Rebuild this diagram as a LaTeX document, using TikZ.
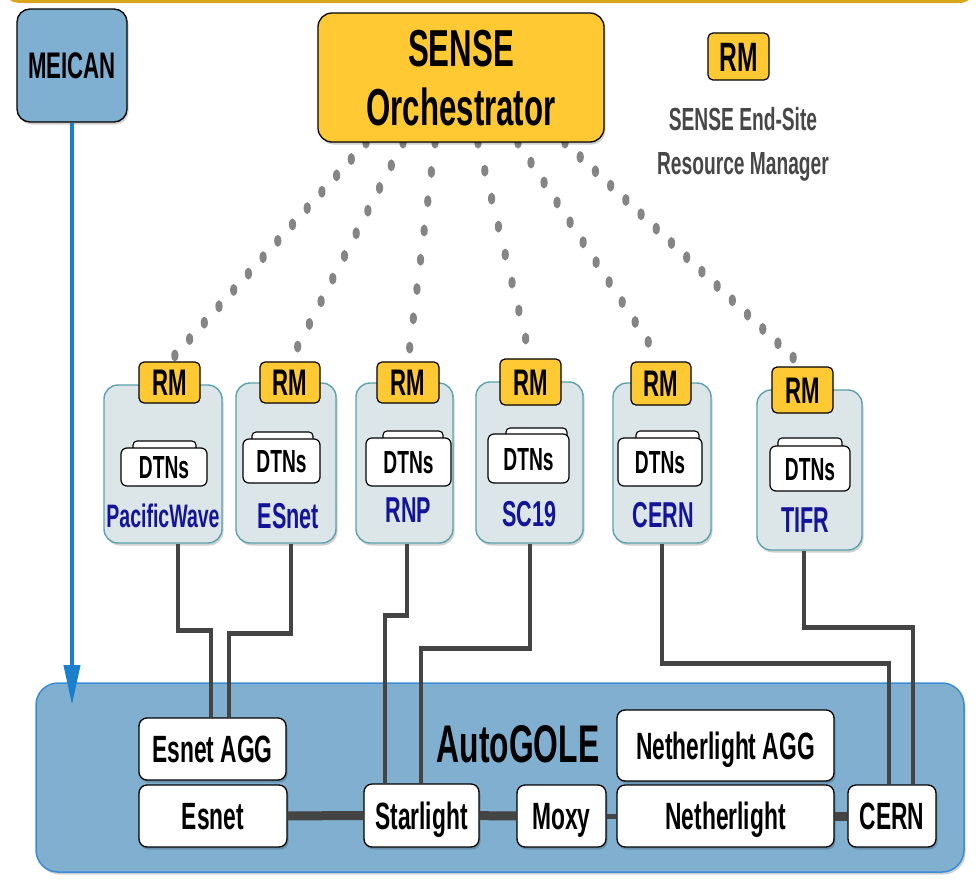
\documentclass[tikz,border=0pt]{standalone}
\usepackage{fontspec}
\setmainfont{Liberation Sans}[FakeStretch=0.6]
\usetikzlibrary{arrows.meta,shadows,decorations.markings}
\definecolor{gold}{HTML}{FFC933}
\definecolor{goldline}{HTML}{D9A51C}
\definecolor{meicanblue}{HTML}{7FAFD1}
\definecolor{golefill}{HTML}{80AFD0}
\definecolor{goleedge}{HTML}{3A8CD6}
\definecolor{sitefill}{HTML}{DCE6E9}
\definecolor{siteedge}{HTML}{5BA2AE}
\definecolor{sitename}{HTML}{14149A}
\definecolor{linkgray}{HTML}{444444}
\definecolor{dotgray}{HTML}{858585}
\definecolor{arrowblue}{HTML}{1A80CE}
\definecolor{legendgray}{HTML}{474747}
\pgfdeclarelayer{bg}
\pgfsetlayers{bg,main}
\tikzset{
  fnt/.code={\pgfmathsetmacro\mytexth{0.72*#1}%
    \tikzset{font=\bfseries\fontsize{#1}{#1}\selectfont, text height=\mytexth pt, text depth=0pt, inner sep=0pt}},
  softshadow/.style={drop shadow={shadow xshift=1.5pt, shadow yshift=-2.5pt, opacity=0.18, fill=black}},
  orchbox/.style={draw=black, line width=1.3pt, fill=gold, rounded corners=14pt, softshadow},
  meicanbox/.style={draw=black, line width=1.3pt, fill=meicanblue, rounded corners=13pt, softshadow, fnt=37},
  rmbox/.style={draw=black, line width=1.2pt, fill=gold, rounded corners=5pt, fnt=37},
  sitebox/.style={draw=siteedge, line width=1.4pt, fill=sitefill, rounded corners=14pt, softshadow},
  dtnback/.style={draw=black, line width=1.1pt, fill=white, rounded corners=4pt},
  dtnfront/.style={draw=black, line width=1.2pt, fill=white, rounded corners=6pt, fnt=32},
  sitelabel/.style={fnt=36, text=sitename, anchor=base},
  golebox/.style={draw=goleedge, line width=1.5pt, fill=golefill, rounded corners=22pt, softshadow},
  golenode/.style={draw=black, line width=1.3pt, fill=white, rounded corners=8pt, fnt=38, softshadow},
  uplink/.style={draw=linkgray, line width=4.8pt},
  trunk/.style={draw=linkgray, line width=9pt},
  rmdots/.style={decorate, decoration={markings,
      mark=between positions 0 and 1 step #1 with {\pgftransformresetnontranslations
        \fill[dotgray] (0,0) ellipse [x radius=3.6pt, y radius=6pt];}}},
  meicanarrow/.style={draw=arrowblue, line width=4pt, -{Triangle[length=40pt,width=16pt]}},
  legendtext/.style={fnt=32, text=legendgray, anchor=base},
}
\begin{document}
\begin{tikzpicture}[x=1pt,y=-1pt]
\useasboundingbox (0,0) rectangle (978,879);

% top gold rule
\draw[goldline, line width=3pt] (8,-10) .. controls (9,0) and (12,1.5) .. (24,1.5) -- (958,1.5) .. controls (966,1.5) and (969,0) .. (970,-10);

% AutoGOLE domain
\node[golebox, minimum width=928, minimum height=189] (autogole) at (500,777.5) {};
\node[fnt=53, anchor=base] (autogoletext) at (518,762) {AutoGOLE};

\node[golenode, minimum width=147, minimum height=62] (esagg) at (212.5,749) {Esnet AGG};
\node[golenode, minimum width=148, minimum height=62] (esnet) at (213,816) {Esnet};
\node[golenode, minimum width=115, minimum height=63] (starlight) at (421.5,815.5) {Starlight};
\node[golenode, minimum width=89, minimum height=62] (moxy) at (561.5,816) {Moxy};
\node[golenode, minimum width=217, minimum height=62] (netherlight) at (725.5,816) {Netherlight};
\node[golenode, minimum width=217, minimum height=71] (nlagg) at (725.5,745.5) {Netherlight AGG};
\node[golenode, minimum width=88, minimum height=62] (cernnode) at (892,816) {CERN};

\draw[trunk] (esnet) -- (starlight);
\draw[trunk] (starlight) -- (moxy);
\draw[trunk, line width=5pt] (moxy) -- (netherlight);
\draw[trunk] (netherlight) -- (cernnode);

% MEICAN
\node[meicanbox, minimum width=110, minimum height=113] (meican) at (72,65.5) {MEICAN};
\coordinate (arrowtip) at (72,705);
\draw[meicanarrow] (meican.south) -- (arrowtip);

% SENSE Orchestrator
\node[orchbox, minimum width=286, minimum height=129] (orch) at (461,77.5) {};
\node[fnt=52, anchor=base] (orchline1) at (461,66) {SENSE};
\node[fnt=52, anchor=base] (orchline2) at (461,125) {Orchestrator};

% legend
\node[rmbox, fnt=41, minimum width=61, minimum height=47] (legendrm) at (738.5,56.5) {RM};
\node[legendtext] (legend1) at (743,130) {SENSE End-Site};
\node[legendtext] (legend2) at (743,174) {Resource Manager};

% sites
\node[sitebox, minimum width=118, minimum height=158] (site1) at (163,464) {};
\node[dtnback, minimum width=63, minimum height=19] (dtnb1) at (164.5,450.5) {};
\node[dtnfront, minimum width=86, minimum height=38] (dtn1) at (164,467) {DTNs};
\node[sitelabel, fnt=32.5] (label1) at (163,527) {PacificWave};
\node[rmbox, minimum width=61, minimum height=41] (rm1) at (169.5,382.5) {RM};

\node[sitebox, minimum width=100, minimum height=160] (site2) at (286,463) {};
\node[dtnback, minimum width=61, minimum height=20] (dtnb2) at (282.5,442) {};
\node[dtnfront, minimum width=77, minimum height=44] (dtn2) at (281.5,461) {DTNs};
\node[sitelabel] (label2) at (288.5,528) {ESnet};
\node[rmbox, minimum width=60, minimum height=41] (rm2) at (290,382.5) {RM};

\node[sitebox, minimum width=97, minimum height=160] (site3) at (404.5,463) {};
\node[dtnback, minimum width=60, minimum height=19] (dtnb3) at (413,440.5) {};
\node[dtnfront, minimum width=85, minimum height=48] (dtn3) at (408.5,462) {DTNs};
\node[sitelabel] (label3) at (408.5,522) {RNP};
\node[rmbox, minimum width=62, minimum height=41] (rm3) at (408,382.5) {RM};

\node[sitebox, minimum width=107, minimum height=161] (site4) at (529.5,462.5) {};
\node[dtnback, minimum width=61, minimum height=20] (dtnb4) at (536.5,438) {};
\node[dtnfront, minimum width=81, minimum height=49] (dtn4) at (528.5,458.5) {DTNs};
\node[sitelabel] (label4) at (529.5,526) {SC19};
\node[rmbox, minimum width=61, minimum height=46] (rm4) at (530.5,382) {RM};

\node[sitebox, minimum width=98, minimum height=160] (site5) at (662,463) {};
\node[dtnback, minimum width=63, minimum height=19] (dtnb5) at (667.5,440.5) {};
\node[dtnfront, minimum width=84, minimum height=48] (dtn5) at (660,462) {DTNs};
\node[sitelabel] (label5) at (663.5,527) {CERN};
\node[rmbox, minimum width=60, minimum height=43] (rm5) at (661,383.5) {RM};

\node[sitebox, minimum width=105, minimum height=160] (site6) at (809.5,470) {};
\node[dtnback, minimum width=64, minimum height=20] (dtnb6) at (810,448) {};
\node[dtnfront, minimum width=80, minimum height=45] (dtn6) at (810,468.5) {DTNs};
\node[sitelabel] (label6) at (805,532) {TIFR};
\node[rmbox, minimum width=61, minimum height=46] (rm6) at (802.5,390) {RM};

% dotted control links (behind boxes)
\begin{pgfonlayer}{bg}
\path[rmdots=22pt] ([xshift=-95]orch.south) -- (rm1.north);
\path[rmdots=25.5pt] ([xshift=-58]orch.south) -- (rm2.north);
\path[rmdots=29.5pt] ([xshift=-26]orch.south) -- (rm3.north);
\path[rmdots=28.8pt] ([xshift=17]orch.south) -- (rm4.north);
\path[rmdots=23.8pt] ([xshift=57]orch.south) -- (rm5.north);
\path[rmdots=20.9pt] ([xshift=104]orch.south) -- (rm6.north);
\end{pgfonlayer}

% data-plane uplinks
\draw[uplink] ([xshift=15]site1.south) -- ++(0,87) -| ([xshift=-1.5]esagg.north);
\draw[uplink] ([xshift=5]site2.south) -- ++(0,90) -| ([xshift=16.5]esagg.north);
\draw[uplink] ([xshift=2.5]site3.south) -- ++(0,72) -| ([xshift=-36.5]starlight.north);
\draw[uplink] ([xshift=0.5]site4.south) -- ++(0,105) -| ([xshift=-0.5]starlight.north);
\draw[uplink] (site5.south) -- ++(0,120) -| ([xshift=-3]cernnode.north);
\draw[uplink] ([xshift=-5.5]site6.south) -- ++(0,77) -| ([xshift=21]cernnode.north);
\end{tikzpicture}
\end{document}
